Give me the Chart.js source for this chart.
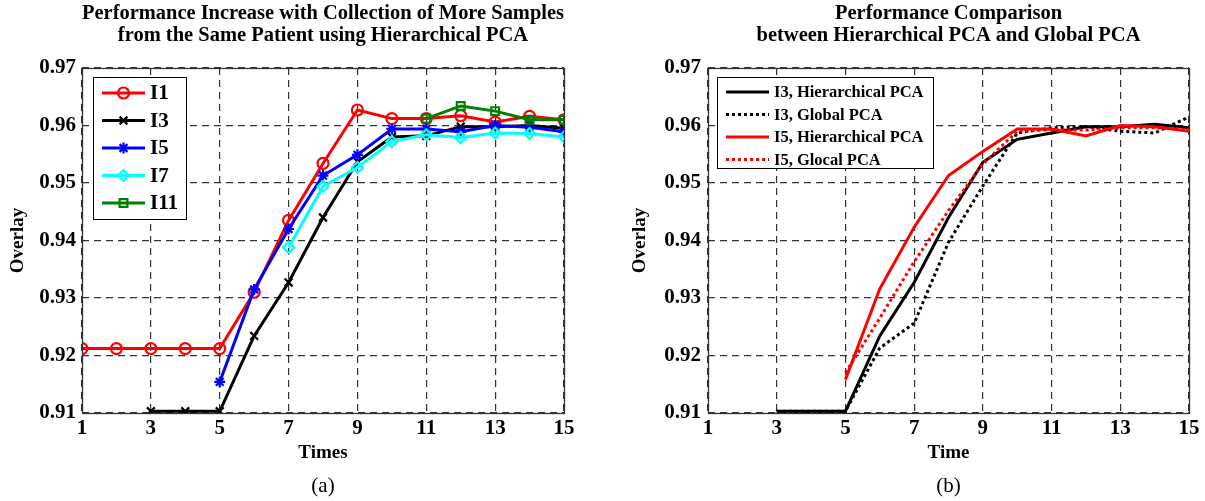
<!DOCTYPE html>
<html>
<head>
<meta charset="utf-8">
<script src="https://cdn.jsdelivr.net/npm/chart.js@4.4.1/dist/chart.umd.min.js"></script>
<style>
  body { margin: 0; background: #fff; width: 1205px; height: 501px; overflow: hidden; position: relative; }
  canvas { position: absolute; top: 0; }
</style>
</head>
<body>
<canvas id="left" width="600" height="501" style="left:0"></canvas>
<canvas id="right" width="605" height="501" style="left:600px"></canvas>
<script>
// x values (sample count) and axis ticks
const times = [1, 2, 3, 4, 5, 6, 7, 8, 9, 10, 11, 12, 13, 14, 15];
const xTicks = [1, 3, 5, 7, 9, 11, 13, 15];
const yTicks = [0.91, 0.92, 0.93, 0.94, 0.95, 0.96, 0.97];

// (a) Hierarchical PCA, by number of samples
const i1 = [0.9212, 0.9212, 0.9212, 0.9212, 0.9212, 0.9310, 0.9435, 0.9534, 0.9627, 0.9612, 0.9612, 0.9617, 0.9606, 0.9616, 0.9610];
const i3 = [null, null, 0.9103, 0.9103, 0.9103, 0.9234, 0.9327, 0.9440, 0.9537, 0.9580, 0.9582, 0.9598, 0.9598, 0.9600, 0.9595];
const i5 = [null, null, null, null, 0.9154, 0.9315, 0.9420, 0.9513, 0.9549, 0.9594, 0.9594, 0.9589, 0.9600, 0.9597, 0.9589];
const i7 = [null, null, null, null, null, null, 0.9388, 0.9494, 0.9527, 0.9572, 0.9584, 0.9579, 0.9587, 0.9586, 0.9580];
const i11 = [null, null, null, null, null, null, null, null, null, null, 0.9612, 0.9634, 0.9625, 0.9610, 0.9610];

// (b) Hierarchical vs global PCA
const i3Hier = [null, null, 0.9103, 0.9103, 0.9103, 0.9234, 0.9327, 0.9440, 0.9536, 0.9576, 0.9587, 0.9598, 0.9598, 0.9602, 0.9596];
const i3Global = [null, null, 0.9103, 0.9103, 0.9103, 0.9213, 0.9256, 0.9397, 0.9495, 0.9587, 0.9596, 0.9598, 0.9590, 0.9587, 0.9615];
const i5Hier = [null, null, null, null, 0.9158, 0.9316, 0.9423, 0.9513, 0.9555, 0.9594, 0.9594, 0.9582, 0.9600, 0.9598, 0.9590];
const i5Global = [null, null, null, null, 0.9170, 0.9265, 0.9363, 0.9452, 0.9533, 0.9590, 0.9593, 0.9592, 0.9596, 0.9596, 0.9593];

const serif = 'Liberation Serif';

function pts(arr) {
  return arr.map((v, i) => ({ x: times[i], y: v }));
}

// frame, legend box and caption letter
const decor = {
  id: 'decor',
  afterDraw(chart, args, opts) {
    const ctx = chart.ctx;
    const a = chart.chartArea;
    ctx.save();
    ctx.strokeStyle = '#333';
    ctx.lineWidth = 1.3;
    ctx.setLineDash([]);
    ctx.strokeRect(a.left + 0.5, a.top + 0.5, a.right - a.left, a.bottom - a.top);

    const lg = opts.legend;
    ctx.fillStyle = '#fff';
    ctx.fillRect(lg.x, lg.y, lg.w, lg.h);
    ctx.strokeStyle = '#000';
    ctx.lineWidth = 1;
    ctx.strokeRect(lg.x + 0.5, lg.y + 0.5, lg.w, lg.h);
    ctx.font = 'bold ' + lg.size + 'px "' + serif + '"';
    ctx.textBaseline = 'middle';
    chart.data.datasets.forEach((ds, i) => {
      const y = lg.rowY + i * lg.rowH;
      ctx.strokeStyle = ds.borderColor;
      ctx.lineWidth = ds.borderWidth;
      ctx.setLineDash(ds.borderDash || []);
      ctx.beginPath();
      ctx.moveTo(lg.x1, y);
      ctx.lineTo(lg.x2, y);
      ctx.stroke();
      ctx.setLineDash([]);
      if (ds.pointRadius > 0) {
        ctx.fillStyle = 'rgba(0,0,0,0)';
        ctx.lineWidth = ds.pointBorderWidth;
        Chart.helpers.drawPoint(ctx, { pointStyle: ds.pointStyle, radius: ds.pointRadius, rotation: 0, borderWidth: ds.pointBorderWidth }, (lg.x1 + lg.x2) / 2, y);
      }
      ctx.fillStyle = '#000';
      ctx.fillText(ds.label, lg.textX, y + 1);
    });

    ctx.font = '21px "' + serif + '"';
    ctx.textAlign = 'center';
    ctx.fillText(opts.caption, (a.left + a.right) / 2, 486);
    ctx.restore();
  }
};

function series(label, data, color, style, dash, order) {
  return {
    label: label,
    data: pts(data),
    borderColor: color,
    backgroundColor: 'rgba(0,0,0,0)',
    borderWidth: 3,
    borderDash: dash,
    pointStyle: style || 'circle',
    pointRadius: style ? 5.5 : 0,
    pointBorderWidth: 2.2,
    pointBackgroundColor: 'rgba(0,0,0,0)',
    pointBorderColor: color,
    order: order
  };
}

function makeChart(id, datasets, opt) {
  return new Chart(document.getElementById(id), {
    type: 'line',
    data: { datasets: datasets },
    plugins: [decor],
    options: {
      responsive: false,
      animation: false,
      layout: { padding: { top: 0, left: 0, right: opt.padRight, bottom: 0 } },
      plugins: {
        legend: { display: false },
        tooltip: { enabled: false },
        title: {
          display: true,
          text: opt.title,
          fullSize: false,
          color: '#000',
          font: { family: serif, size: 20.5, weight: 'bold', lineHeight: 1.1 },
          padding: { top: 2, bottom: 20.9 }
        },
        decor: { legend: opt.legend, caption: opt.caption }
      },
      scales: {
        x: {
          type: 'linear',
          min: 1,
          max: 15,
          afterBuildTicks: s => { s.ticks = xTicks.map(v => ({ value: v })); },
          afterFit: s => { s.height = 88; },
          ticks: { color: '#000', padding: 3, font: { family: serif, size: 21, weight: 'bold' } },
          grid: { color: '#333', lineWidth: 1.2, drawTicks: false },
          border: { display: false, dash: [7, 5] },
          title: {
            display: true,
            text: opt.xTitle,
            color: '#000',
            font: { family: serif, size: 19, weight: 'bold' },
            padding: { top: 0, bottom: 36.6 }
          }
        },
        y: {
          min: 0.91,
          max: 0.97,
          afterBuildTicks: s => { s.ticks = yTicks.map(v => ({ value: v })); },
          afterFit: s => { s.width = opt.yWidth; },
          ticks: {
            color: '#000',
            padding: opt.yPad,
            font: { family: serif, size: 21, weight: 'bold' },
            callback: v => v.toFixed(2)
          },
          grid: { color: '#333', lineWidth: 1.2, drawTicks: false },
          border: { display: false, dash: [7, 5] },
          title: {
            display: true,
            text: 'Overlay',
            color: '#000',
            font: { family: serif, size: 19, weight: 'bold' },
            padding: { top: opt.yTitlePad, bottom: 0 }
          }
        }
      }
    }
  });
}

makeChart('left', [
  series('I1', i1, '#ff0000', 'circle', [], 4),
  series('I3', i3, '#000000', 'crossRot', [], 3),
  series('I5', i5, '#0000ff', 'star', [], 2),
  series('I7', i7, '#00ffff', 'rectRot', [], 1),
  series('I11', i11, '#008000', 'rect', [], 0)
], {
  title: ['Performance Increase with Collection of More Samples', 'from the Same Patient using Hierarchical PCA'],
  xTitle: 'Times',
  caption: '(a)',
  padRight: 36,
  yWidth: 82,
  yPad: 6,
  yTitlePad: 7,
  legend: { x: 93, y: 77, w: 93, h: 142, rowY: 93, rowH: 27.5, x1: 102, x2: 145, textX: 150, size: 21 }
});

makeChart('right', [
  series('I3, Hierarchical PCA', i3Hier, '#000000', null, [], 3),
  series('I3, Global PCA', i3Global, '#000000', null, [3, 3], 2),
  series('I5, Hierarchical PCA', i5Hier, '#ff0000', null, [], 1),
  series('I5, Glocal PCA', i5Global, '#ff0000', null, [3, 3], 0)
], {
  title: ['Performance Comparison', 'between Hierarchical PCA and Global PCA'],
  xTitle: 'Time',
  caption: '(b)',
  padRight: 16,
  yWidth: 108,
  yPad: 7,
  yTitlePad: 29,
  legend: { x: 117, y: 77, w: 216, h: 91, rowY: 92, rowH: 22.5, x1: 126, x2: 169, textX: 174, size: 16.5 }
});
</script>
</body>
</html>
